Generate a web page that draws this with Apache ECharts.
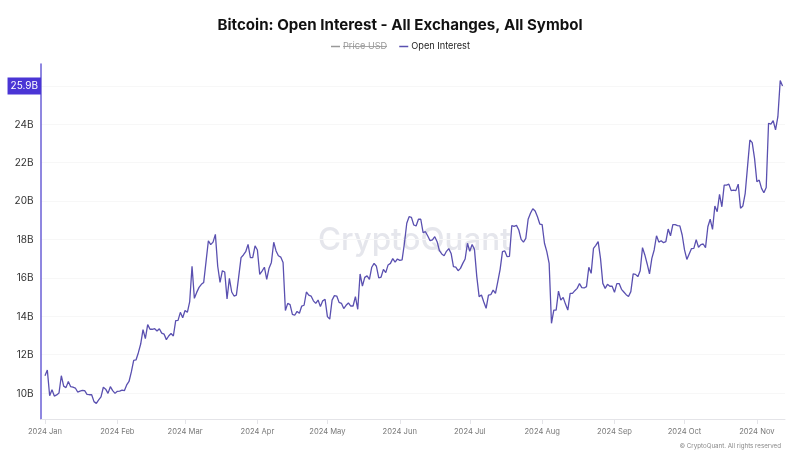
<!DOCTYPE html>
<html lang="en">
<head>
<meta charset="UTF-8">
<title>Bitcoin: Open Interest</title>
<script src="https://cdn.jsdelivr.net/npm/echarts@6/dist/echarts.min.js"></script>
<style>
  html, body { margin: 0; padding: 0; background: #fff; }
  #main { width: 800px; height: 460px; }
</style>
</head>
<body>
<div id="main"></div>
<script>
var startDay = Date.UTC(2024, 0, 1);
var dayMs = 86400000;

// daily open interest in billions, one value per day from startDay
var openInterest = [
  10.9, 11.2, 9.86, 10.17, 9.84, 9.9, 10.0, 10.9, 10.36, 10.28, 10.6, 10.33, 10.3, 10.26, 10.05, 10.1,
  10.14, 10.12, 9.93, 9.91, 9.91, 9.55, 9.46, 9.64, 9.8, 10.3, 10.2, 9.98, 10.33, 10.12, 9.98,
  10.09, 10.1, 10.15, 10.12, 10.42, 10.6, 11.1, 11.7, 11.72, 12.1, 12.55, 13.3, 12.83, 13.56, 13.32,
  13.32, 13.35, 13.23, 13.35, 13.12, 13.07, 12.78, 12.97, 13.1, 12.97, 13.77, 13.78, 14.2, 13.92,
  14.3, 14.2, 14.76, 16.6, 14.93, 15.24, 15.5, 15.66, 15.76, 16.84, 17.93, 17.73, 17.86, 18.26, 16.6,
  15.76, 16.37, 16.3, 14.9, 15.97, 15.26, 15.05, 15.1, 16.06, 17.05, 17.19, 17.36, 17.74, 17.05, 17.05, 17.66,
  17.45, 16.18, 16.35, 16.55, 15.92, 16.5, 16.8, 17.85, 17.4, 17.15, 17.08, 16.8, 14.3, 14.67, 14.6,
  14.1, 14.05, 14.25, 14.15, 14.53, 14.57, 15.26, 15.1, 15.05, 14.8, 14.67, 14.84, 14.5, 14.8, 14.88,
  13.98, 13.85, 14.84, 15.07, 15.05, 14.72, 14.67, 14.4, 14.57, 14.69, 14.53, 14.53, 15.02, 14.36, 16.2,
  15.57, 16.02, 16.1, 15.92, 16.55, 16.75, 16.6, 15.99, 16.04, 16.44, 16.27, 16.67, 16.75, 17.0, 16.82,
  16.98, 16.91, 16.93, 17.8, 18.84, 19.18, 19.15, 18.75, 18.7, 19.05, 19.05, 18.35, 18.4, 18.18, 17.93,
  17.97, 18.14, 17.88, 17.41, 17.24, 17.15, 17.38, 17.52, 17.27, 16.58, 16.55, 16.37, 16.49, 16.75, 16.98,
  17.8, 17.38, 17.73, 17.48, 16.06, 15.02, 15.1, 14.74, 14.41, 15.1, 15.12, 15.36, 15.19, 15.8, 16.44,
  17.36, 17.4, 17.1, 17.12, 18.72, 18.68, 18.73, 18.49, 18.0, 17.86, 18.05, 19.05, 19.36, 19.6, 19.48,
  19.18, 18.8, 18.77, 17.8, 17.36, 16.75, 13.63, 14.32, 14.32, 15.31, 14.84, 14.98, 14.63, 14.32, 15.19,
  15.19, 15.33, 15.45, 15.7, 15.49, 15.47, 15.54, 16.55, 16.23, 17.53, 17.69, 17.88, 17.01, 15.71, 15.45,
  15.66, 15.56, 15.56, 15.24, 15.7, 15.7, 15.4, 15.26, 15.12, 15.03, 15.28, 16.2, 16.18, 16.06, 16.37,
  17.57, 17.19, 16.72, 16.2, 17.01, 17.45, 18.19, 17.86, 17.93, 17.83, 17.88, 18.54, 18.19, 18.77, 18.77,
  18.72, 18.7, 18.23, 17.45, 16.96, 17.24, 17.52, 17.53, 17.99, 17.59, 17.73, 17.76, 17.57, 18.66, 19.05,
  18.52, 19.74, 19.44, 20.35, 19.7, 20.83, 20.83, 20.88, 20.54, 20.57, 20.54, 20.88, 19.62, 19.74, 20.4,
  21.79, 23.18, 23.04, 22.22, 21.0, 21.09, 20.66, 20.43, 20.7, 24.05, 24.0, 24.18, 23.7, 24.39, 26.27, 25.99
];
var priceUsd = []; // series is switched off in the legend
var lastValue = 25.99; // the tag truncates this to 25.9B
var yTicks = [10, 12, 14, 16, 18, 20, 22, 24, lastValue];
var xTicks = [
  Date.UTC(2024, 0, 1), Date.UTC(2024, 1, 1), Date.UTC(2024, 2, 1), Date.UTC(2024, 3, 1),
  Date.UTC(2024, 4, 1), Date.UTC(2024, 5, 1), Date.UTC(2024, 6, 1), Date.UTC(2024, 7, 1),
  Date.UTC(2024, 8, 1), Date.UTC(2024, 9, 1), Date.UTC(2024, 10, 1)
];
var monthNames = ['Jan', 'Feb', 'Mar', 'Apr', 'May', 'Jun', 'Jul', 'Aug', 'Sep', 'Oct', 'Nov', 'Dec'];

var font = 'Inter';
var myChart = echarts.init(document.getElementById('main'));

var option = {
  animation: false,
  backgroundColor: '#fff',
  title: {
    text: 'Bitcoin: Open Interest - All Exchanges, All Symbol',
    left: 'center',
    top: 13,
    textStyle: { fontFamily: font, fontSize: 15.1, fontWeight: 700, color: '#111' }
  },
  legend: {
    top: 37,
    left: 326,
    icon: 'rect',
    itemWidth: 9,
    itemHeight: 1.5,
    itemGap: 12,
    inactiveColor: '#999',
    textStyle: { fontFamily: font, fontSize: 9.2, color: '#222', padding: [0, 0, 0, -2] },
    selected: { 'Price USD': false, 'Open Interest': true },
    data: ['Price USD', 'Open Interest']
  },
  grid: { left: 41, right: 15, top: 64, bottom: 41 },
  // plain value axis holding timestamps, ticks sit on the first of each month
  xAxis: {
    type: 'value',
    min: startDay - 1.71 * dayMs,
    max: startDay + 317.05 * dayMs,
    axisLine: { lineStyle: { color: '#e4e4e8', width: 1 } },
    axisTick: { show: true, length: 5, customValues: xTicks, lineStyle: { color: '#e4e4e8' } },
    splitLine: { show: false },
    axisLabel: {
      customValues: xTicks,
      margin: 9,
      fontFamily: font,
      fontSize: 7.6,
      color: '#777',
      hideOverlap: false,
      formatter: function (v) {
        var d = new Date(v);
        return d.getUTCFullYear() + ' ' + monthNames[d.getUTCMonth()];
      }
    }
  },
  yAxis: {
    type: 'value',
    min: 8.646,
    max: 27.135,
    axisLine: { show: true, lineStyle: { color: '#6a5fd6', width: 1.5 } },
    axisTick: { show: false, customValues: yTicks },
    splitLine: { lineStyle: { color: '#f7f7f7', width: 1 } },
    axisLabel: {
      customValues: yTicks,
      margin: 0,
      formatter: function (v) {
        if (v === lastValue) return '{tag|' + (Math.floor(v * 10) / 10) + 'B}';
        return '{tick|' + v + 'B}';
      },
      rich: {
        tick: { fontFamily: font, fontSize: 10, color: '#333', padding: [1, 7.5, 0, 0] },
        tag: { fontFamily: font, fontSize: 10, color: '#fff', backgroundColor: '#4a35d5', padding: [4, 3, 3, 3] }
      }
    }
  },
  series: [
    { name: 'Price USD', type: 'line', data: priceUsd, showSymbol: false, itemStyle: { color: '#bbb' } },
    {
      name: 'Open Interest',
      type: 'line',
      showSymbol: false,
      z: 3,
      lineStyle: { color: '#5a50b0', width: 1.3 },
      itemStyle: { color: '#5a50b0' },
      data: openInterest.map(function (v, i) { return [startDay + i * dayMs, v]; })
    }
  ],
  graphic: [
    {
      type: 'text', left: 318, top: 225, z: 0, silent: true,
      style: { text: 'CryptoQuant', fontFamily: font, fontSize: 31.4, fontWeight: 500, fill: '#e5e6ec' }
    },
    {
      type: 'text', right: 19, top: 443, silent: true,
      style: { text: '© CryptoQuant. All rights reserved', fontFamily: font, fontSize: 6.2, fill: '#888' }
    },
    { // strike through the switched off legend entry
      type: 'rect', left: 343, top: 46, silent: true,
      shape: { width: 44, height: 0.8 },
      style: { fill: '#888' }
    }
  ]
};
myChart.setOption(option);
</script>
</body>
</html>
